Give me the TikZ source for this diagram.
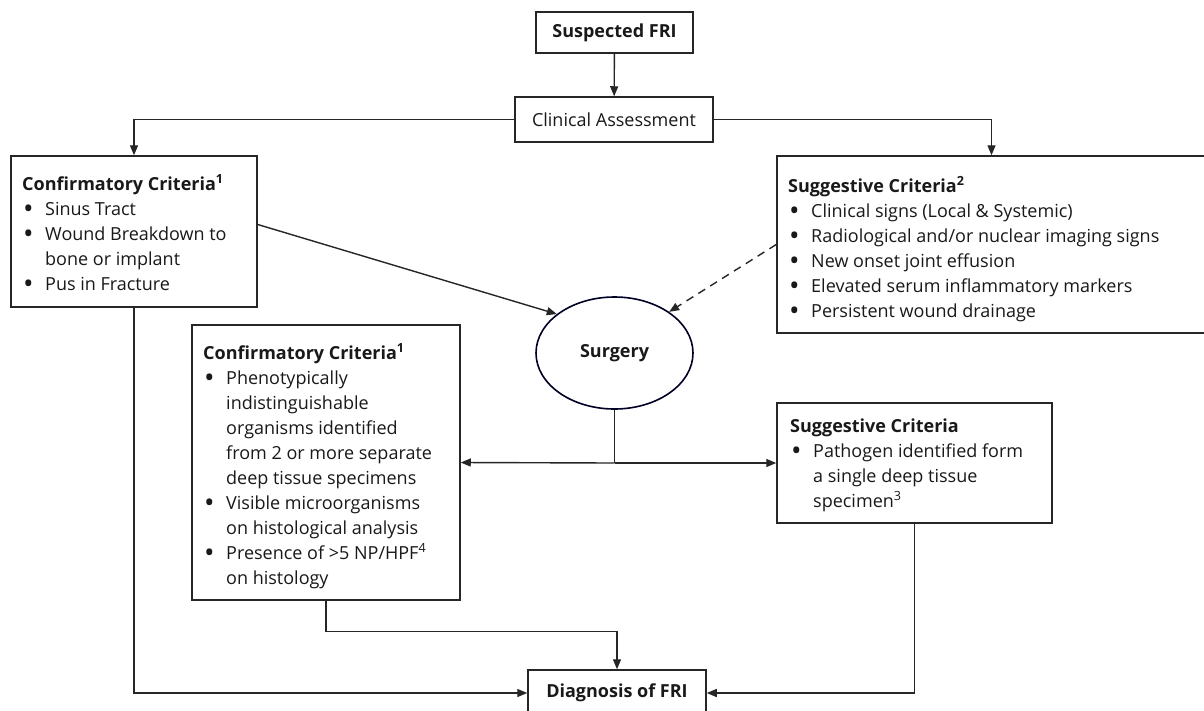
\documentclass[tikz,border=0pt]{standalone}
\usepackage{fontspec}
\setmainfont{Open Sans}
\usetikzlibrary{arrows.meta,shapes.geometric}
\newcommand\itm{\makebox[23pt][l]{\hspace{1pt}\smash{\raisebox{-3pt}{\fontsize{28}{25}\selectfont\textbullet}}}}
\newcommand\cnt{\hspace*{23pt}}
\newcommand\sups[1]{\textsuperscript{#1}}
\newcommand\fl{\rule{0pt}{18pt}}
\begin{document}
\begin{tikzpicture}[x=1pt,y=-1pt,
  every node/.style={font=\fontsize{18}{25}\selectfont, text=black!90},
  box/.style={draw=black!85, line width=1.5pt, rectangle, inner sep=0pt},
  txt/.style={anchor=north west, align=left, inner sep=0pt},
  cbox/.style={draw=black!85, line width=1.5pt, rectangle, align=center, inner sep=0pt},
  conn/.style={draw=black!85, line width=1.4pt},
  arr/.style={conn, -{Triangle[length=10pt,width=8pt]}},
  darr/.style={arr, dash pattern=on 8pt off 6pt}]
\useasboundingbox (0,0) rectangle (1204,710);
\fill[white] (0,0) rectangle (1204,710);

\node[cbox, minimum width=157pt, minimum height=41pt, font=\fontsize{18}{25}\selectfont\bfseries] (sus) at (614.5,32.5) {Suspected FRI};
\node[cbox, minimum width=198pt, minimum height=45pt] (cla) at (614,119.5) {Clinical Assessment};

\node[box, minimum width=246pt, minimum height=151pt] (cc1) at (134,231.5) {};
\node[txt] (cc1t) at (22,172)
 {\fl\textbf{Confirmatory Criteria\sups{1}}\\
  \itm Sinus Tract\\
  \itm Wound Breakdown to\\
  \cnt bone or implant\\
  \itm Pus in Fracture};

\node[box, minimum width=429pt, minimum height=177pt] (sc1) at (991.5,244.5) {};
\node[txt] (sc1t) at (788,174)
 {\fl\textbf{Suggestive Criteria\sups{2}}\\
  \itm Clinical signs (Local \& Systemic)\\
  \itm Radiological and/or nuclear imaging signs\\
  \itm New onset joint effusion\\
  \itm Elevated serum inflammatory markers\\
  \itm Persistent wound drainage};

\node[ellipse, draw=black!85!blue, line width=1.6pt, minimum width=157pt, minimum height=112pt, inner sep=0pt, font=\fontsize{18}{25}\selectfont\bfseries] (sur) at (614.5,353) {Surgery};

\node[box, minimum width=268pt, minimum height=275pt] (cc2) at (326,462.5) {};
\node[txt] (cc2t) at (203,341)
 {\fl\textbf{Confirmatory Criteria\sups{1}}\\
  \itm Phenotypically\\
  \cnt indistinguishable\\
  \cnt organisms identified\\
  \cnt from 2 or more separate\\
  \cnt deep tissue specimens\\
  \itm Visible microorganisms\\
  \cnt on histological analysis\\
  \itm Presence of >5 NP/HPF\sups{4}\\
  \cnt on histology};

\node[box, minimum width=275pt, minimum height=120pt] (sc2) at (914.5,463) {};
\node[txt] (sc2t) at (790,414)
 {\fl\textbf{Suggestive Criteria}\\
  \itm Pathogen identified form\\
  \cnt a single deep tissue\\
  \cnt specimen\sups{3}};

\node[cbox, minimum width=178pt, minimum height=46pt, font=\fontsize{18}{25}\selectfont\bfseries] (dia) at (617,693) {Diagnosis of FRI};

\coordinate (j) at (614.5,463);

\draw[arr] (sus) -- (cla);
\draw[arr] (cla.west) -| (cc1.north);
\draw[arr] (cla.east) -| (sc1.north);
\draw[arr] ([yshift=7pt]cc1.east) -- (sur.146);
\draw[darr] (sc1.west) -- (sur.37);
\draw[conn] (sur.south) -- (j);
\draw[arr] (j) -- (cc2.east);
\draw[arr] (j) -- (sc2.west);
\draw[arr] (cc1.south) |- (dia.west);
\draw[arr] (sc2.south) |- (dia.east);
\draw[arr] (cc2.south) -- ++(0,31) -| (dia.north);
\end{tikzpicture}
\end{document}
